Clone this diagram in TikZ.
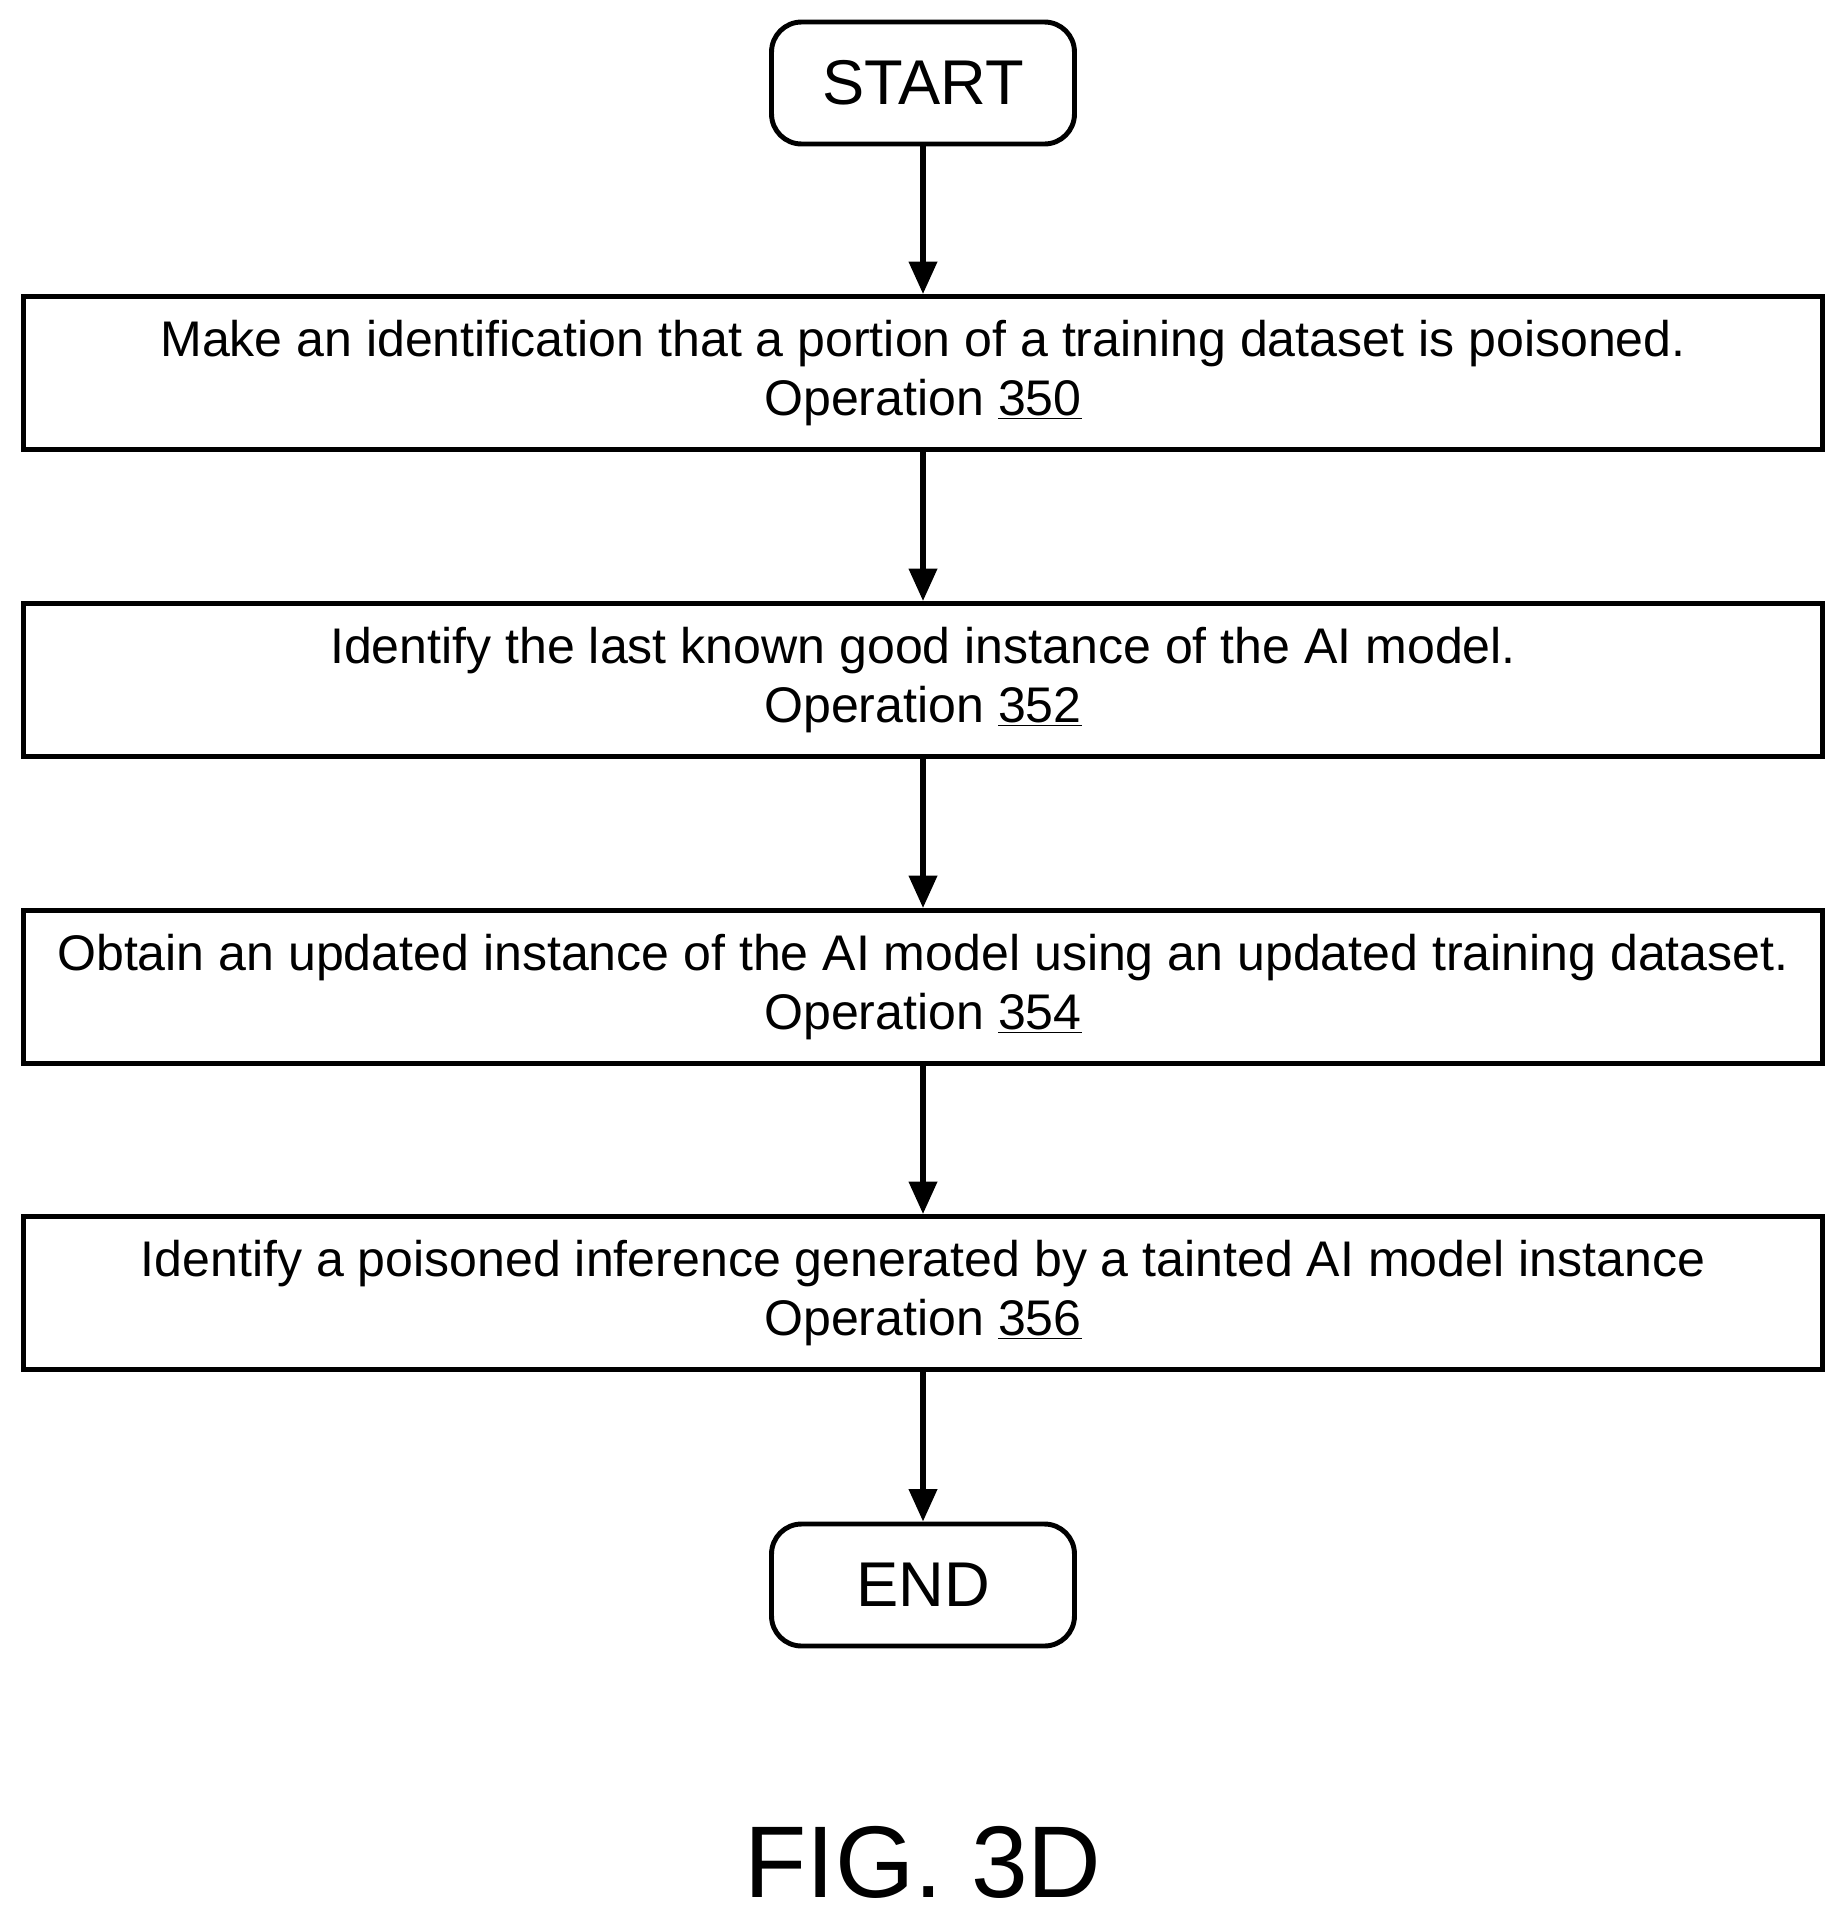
\documentclass[tikz,border=0pt]{standalone}
\usepackage{fontspec}
\setmainfont{Liberation Sans}
\usetikzlibrary{arrows.meta,positioning}
\tikzset{
  op/.style={draw,line width=2.8pt,minimum width=36cm,minimum height=3.06cm,align=center,font=\fontsize{28.5}{34}\selectfont,inner sep=0pt},
  term/.style={draw,line width=2.8pt,rounded corners=0.6cm,minimum width=6.06cm,minimum height=2.44cm,font=\fontsize{36}{40}\selectfont},
  flow/.style={-{Triangle[length=0.65cm,width=0.55cm]},line width=3.2pt}
}
\begin{document}
\begin{tikzpicture}[x=0.02cm,y=-0.02cm]
  \useasboundingbox (0,0) rectangle (1847,1920);
  \node[term] (start) at (923,83) {START};
  \node[op] (o350) at (923,373) {Make an identification that a portion of a training dataset is poisoned.\\Operation \underline{350}};
  \node[op] (o352) at (923,680) {Identify the last known good instance of the AI model.\\Operation \underline{352}};
  \node[op] (o354) at (923,987) {Obtain an updated instance of the AI model using an updated training dataset.\\Operation \underline{354}};
  \node[op] (o356) at (923,1293) {Identify a poisoned inference generated by a tainted AI model instance\\Operation \underline{356}};
  \node[term] (end) at (923,1585) {END};

  \draw[flow] (start) -- (o350);
  \draw[flow] (o350) -- (o352);
  \draw[flow] (o352) -- (o354);
  \draw[flow] (o354) -- (o356);
  \draw[flow] (o356) -- (end);

  \node[font=\fontsize{58}{60}\selectfont] (fig) at (923,1862) {FIG. 3D};
\end{tikzpicture}
\end{document}
